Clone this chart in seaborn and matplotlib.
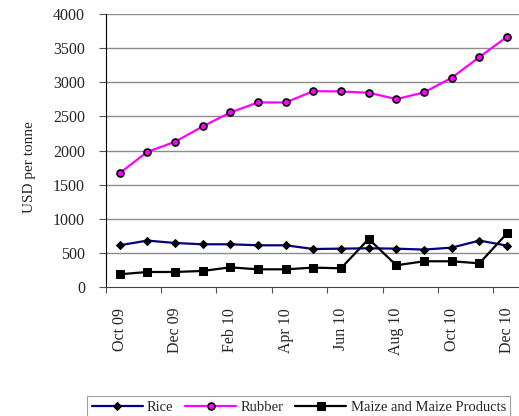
import pandas as pd
import seaborn as sns
import matplotlib.pyplot as plt

meses = ["Oct 09", "Nov 09", "Dec 09", "Jan 10", "Feb 10", "Mar 10", "Apr 10", "May 10",
         "Jun 10", "Jul 10", "Aug 10", "Sep 10", "Oct 10", "Nov 10", "Dec 10"]
rice = [611, 680, 645, 626, 626, 611, 611, 557, 562, 567, 562, 548, 577, 680, 606]
rubber = [1667, 1980, 2127, 2352, 2557, 2704, 2704, 2870, 2865, 2846, 2753, 2851, 3066, 3369, 3667]
maize = [186, 220, 220, 235, 288, 259, 259, 284, 274, 704, 318, 377, 377, 347, 787]
y_ticks = [0, 500, 1000, 1500, 2000, 2500, 3000, 3500, 4000]

sns.set_style("white")
plt.rcParams['font.family'] = ['Liberation Serif', 'DejaVu Serif']

df = pd.DataFrame({"Mes": meses, "Rice": rice, "Rubber": rubber,
                   "Maize and Maize Products": maize})

fig = plt.figure(figsize=(5.19, 4.16), dpi=100)
ax = fig.add_axes([0.2037, 0.3101, 0.80, 0.6562])

# linhas de grade horizontais
for y_ in y_ticks[1:]:
    ax.axhline(y_, color="#8c8c8c", linewidth=1, zorder=0)

sns.lineplot(data=df, x="Mes", y="Rice", ax=ax, color="#000080", linewidth=1.6,
             marker="D", markersize=4, markerfacecolor="black", markeredgecolor="black",
             label="Rice", sort=False)
sns.lineplot(data=df, x="Mes", y="Rubber", ax=ax, color="#ff00ff", linewidth=1.6,
             marker="o", markersize=5, markerfacecolor="#ff00ff", markeredgecolor="black",
             markeredgewidth=1.2, label="Rubber", sort=False)
sns.lineplot(data=df, x="Mes", y="Maize and Maize Products", ax=ax, color="black",
             linewidth=1.6, marker="s", markersize=5.5, markerfacecolor="black",
             markeredgecolor="black", label="Maize and Maize Products", sort=False)

ax.set_ylim(0, 4000)
ax.set_yticks(y_ticks)
ax.set_xlim(-0.5, len(meses) - 0.5)
ax.set_xticks(range(0, len(meses), 2))
ax.set_xticklabels(meses[::2], rotation=90, fontsize=11.5)
ax.set_xticks([i - 0.5 for i in range(0, len(meses), 2)], minor=True)
ax.tick_params(axis="x", which="major", length=0, pad=15)
ax.tick_params(axis="x", which="minor", length=4, width=0.8, color="#555555", bottom=True)
ax.tick_params(axis="y", length=5, width=0.8, color="#555555", left=True, labelsize=11.5, pad=10)
ax.set_xlabel("")
ax.set_ylabel("USD per tonne", fontsize=11)
ax.yaxis.set_label_coords(-0.168, 0.44)

for lado in ["top", "right"]:
    ax.spines[lado].set_visible(False)
ax.spines["left"].set_color("black")
ax.spines["bottom"].set_color("#444444")

ax.get_legend().remove()
handles, labels = ax.get_legend_handles_labels()
leg = fig.legend(handles, labels, loc="upper left", bbox_to_anchor=(0.168, 0.048),
                 ncol=3, frameon=True, fancybox=False, fontsize=10.5,
                 handlelength=3.5, handletextpad=0.3, columnspacing=0.8,
                 borderpad=0.3, borderaxespad=0)
leg.get_frame().set_edgecolor("#888888")
leg.get_frame().set_linewidth(0.8)

fig.savefig("out.png", dpi=100)
